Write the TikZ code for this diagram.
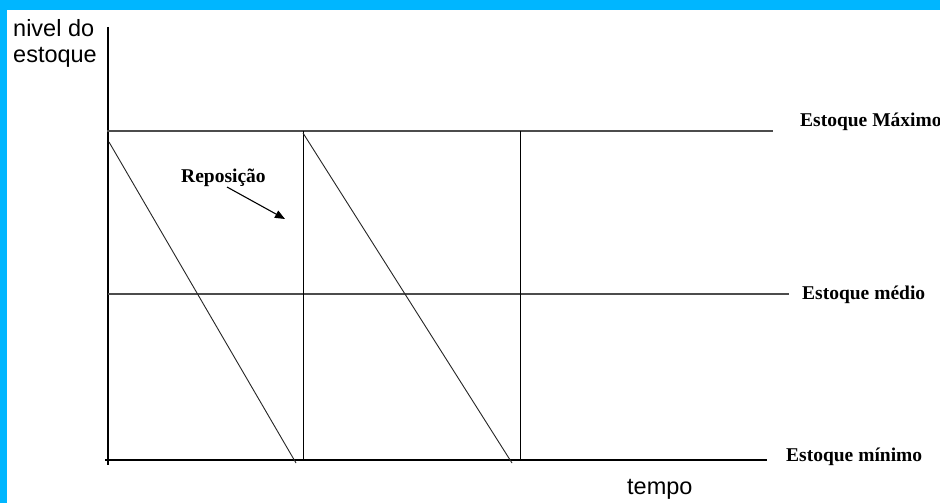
\documentclass[tikz,border=0pt]{standalone}
\usepackage{fontspec}
\setmainfont{Liberation Serif}
\newfontfamily\arialf{Liberation Sans}
\usetikzlibrary{arrows.meta}
\definecolor{frameblue}{RGB}{0,182,255}
\begin{document}
\begin{tikzpicture}[x=1pt,y=-1pt,
  axisline/.style={line width=1.2pt,black},
  levelline/.style={line width=1.2pt,black!70},
  gridv/.style={line width=0.9pt,black},
  drop/.style={line width=0.9pt,black!85},
  lbl/.style={font=\fontsize{19.5}{22}\selectfont\bfseries,anchor=base west,inner sep=0pt},
  axlbl/.style={font=\arialf\fontsize{23.5}{27}\selectfont,anchor=base west,inner sep=0pt}]
\useasboundingbox (0,0) rectangle (940,503);
\fill[frameblue] (0,0) rectangle (940,503);
\fill[white] (7,10) rectangle (940,503);
% coordinates
\coordinate (ytop) at (108,27);
\coordinate (ybot) at (108,465);
\coordinate (maxL) at (107,131);
\coordinate (maxR) at (773,131);
\coordinate (medL) at (108,294);
\coordinate (medR) at (789,294);
\coordinate (minL) at (105,460);
\coordinate (minM) at (662,460);
\coordinate (minR) at (767,460);
\coordinate (v1t) at (303,131);
\coordinate (v1b) at (303,460);
\coordinate (v2t) at (520,131);
\coordinate (v2b) at (520,460);
\coordinate (d1s) at (109,142);
\coordinate (d1e) at (296,463);
\coordinate (d2s) at (303,133);
\coordinate (d2e) at (512,463);
\coordinate (arrS) at (227,187);
\coordinate (arrE) at (285,219);
% lines
\draw[axisline] (ytop) -- (ybot);
\draw[levelline] (maxL) -- (maxR);
\draw[levelline] (medL) -- (medR);
\draw[line width=2.2pt,black] (minL) -- (minM);
\draw[line width=1.1pt,black] (minM) -- (minR);
\draw[gridv] (v1t) -- (v1b);
\draw[gridv] (v2t) -- (v2b);
\draw[drop] (d1s) -- (d1e);
\draw[drop] (d2s) -- (d2e);
\draw[line width=1.1pt,-{Triangle[length=10pt,width=8pt]}] (arrS) -- (arrE);
% labels
\node[lbl] (rep) at (181,182) {Reposição};
\node[lbl] (emax) at (800,126) {Estoque Máximo};
\node[lbl] (emed) at (802,299) {Estoque médio};
\node[lbl] (emin) at (786,461) {Estoque mínimo};
\node[axlbl] (tempo) at (627,494) {tempo};
\node[axlbl] (niv1) at (13,37) {nivel do};
\node[axlbl] (niv2) at (13,63) {estoque};
\end{tikzpicture}
\end{document}
